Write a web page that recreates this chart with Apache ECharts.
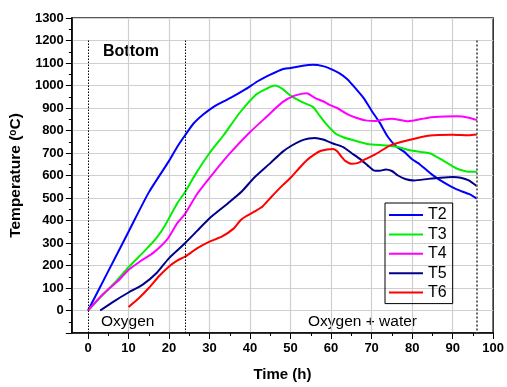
<!DOCTYPE html>
<html>
<head>
<meta charset="utf-8">
<script src="https://cdn.jsdelivr.net/npm/echarts@6.0.0/dist/echarts.min.js"></script>
<style>
  html, body { margin: 0; padding: 0; background: #fff; }
  #chart { width: 507px; height: 387px; }
</style>
</head>
<body>
<div id="chart"></div>
<script>
// hours / temperatures
const t2Hours = [0, 5, 10, 15, 20, 22, 24, 26, 28.5, 31, 33, 35.5, 39, 42, 45, 48, 50, 53, 55.5, 58, 60, 62, 64, 66, 68, 70, 72, 74, 76, 78, 80, 82, 85, 88, 91, 94, 96];
const t2Temps = [0, 175, 350, 525, 665, 727, 780, 830, 872, 905, 925, 948, 985, 1020, 1048, 1072, 1078, 1088, 1092, 1086, 1073, 1055, 1028, 988, 945, 888, 835, 772, 730, 706, 672, 648, 603, 567, 538, 518, 497];

const t3Hours = [0, 3, 6.5, 10, 14.5, 17, 19, 22, 24, 26.5, 30, 33.5, 37.5, 41.5, 44, 46, 48, 50, 53, 55.5, 57, 58.5, 61, 63, 65.5, 69, 74, 77, 79.5, 82, 84.5, 87.5, 91, 94, 96];
const t3Temps = [0, 57, 122, 192, 275, 325, 378, 476, 528, 605, 700, 780, 880, 960, 985, 1000, 985, 955, 925, 905, 870, 835, 788, 770, 757, 740, 733, 724, 712, 705, 698, 668, 631, 617, 617];

const t4Hours = [0, 3.6, 7.3, 10, 13, 16, 19.5, 22, 24, 27, 31, 35, 40, 44, 48, 51, 54, 56, 58, 59.5, 61.5, 64, 66, 68.5, 71, 73, 75, 79, 84, 88, 91, 94, 96];
const t4Temps = [0, 71, 130, 180, 220, 255, 315, 387, 431, 520, 612, 698, 793, 860, 926, 955, 966, 945, 930, 915, 900, 873, 858, 845, 842, 849, 852, 841, 857, 862, 863, 857, 846];

const t5Hours = [3, 6.5, 10, 13.5, 17, 20, 24, 27, 30, 34.5, 38, 41, 45, 48, 50, 52.5, 54.5, 56, 58, 60.5, 63, 65, 67, 69, 70.5, 72, 73.5, 75, 76.5, 78.5, 80.5, 84, 87, 90, 92, 94, 96];
const t5Temps = [0, 42, 80, 115, 168, 233, 300, 355, 410, 476, 530, 590, 655, 705, 730, 754, 764, 767, 760, 742, 726, 700, 675, 645, 623, 621, 627, 620, 600, 583, 578, 585, 590, 593, 590, 578, 552];

const t6Hours = [10, 12.6, 15, 17.5, 20, 22, 24, 27, 30, 33, 36, 37.7, 39, 41, 43, 45, 48, 50, 52, 54, 56, 57.5, 59, 60.5, 61.5, 62.5, 63.5, 65, 66.5, 68, 71, 74.5, 79, 84.5, 90, 94, 96];
const t6Temps = [16, 56, 100, 152, 196, 222, 240, 277, 306, 328, 365, 402, 419, 439, 461, 500, 556, 590, 630, 668, 695, 710, 716, 718, 708, 685, 665, 652, 655, 668, 695, 733, 757, 778, 781, 779, 782];

const seriesNames = ['T2', 'T3', 'T4', 'T5', 'T6'];
const seriesColors = ['#0000ff', '#00ee00', '#ff00ff', '#00008b', '#ff0000'];
const phaseLines = [0, 24, 96];
const xMajorTicks = [0, 10, 20, 30, 40, 50, 60, 70, 80, 90, 100];
const xMinorTicks = [5, 15, 25, 35, 45, 55, 65, 75, 85, 95];
const xGridLines = [10, 20, 30, 40, 50, 60, 70, 80, 90];

const FONT = 'Liberation Sans, Arial, sans-serif';

const pairs = (h, v) => h.map((x, i) => [x, v[i]]);
const allData = [
  pairs(t2Hours, t2Temps),
  pairs(t3Hours, t3Temps),
  pairs(t4Hours, t4Temps),
  pairs(t5Hours, t5Temps),
  pairs(t6Hours, t6Temps),
];

const chart = echarts.init(document.getElementById('chart'));

const series = seriesNames.map((name, i) => ({
  name,
  type: 'line',
  data: allData[i],
  showSymbol: false,
  smooth: 0.2,
  lineStyle: { color: seriesColors[i], width: 2 },
  itemStyle: { color: seriesColors[i] },
}));

// dotted phase boundaries
series[0].markLine = {
  silent: true,
  symbol: 'none',
  label: { show: false },
  lineStyle: { color: '#000', width: 1, type: [1.5, 1.5] },
  data: phaseLines.map((h, i) => [
    i === 2
      ? { coord: [h, 1200], lineStyle: { color: '#666', width: 2, type: [2, 2] } }
      : { coord: [h, 1200] },
    { coord: [h, -100] },
  ]),
};

const xBase = {
  type: 'value',
  min: -4,
  max: 100,
  position: 'bottom',
};

chart.setOption({
  animation: false,
  grid: {
    left: 68, right: 10, top: 18, bottom: 52,
    show: true, borderColor: '#222', borderWidth: 1.5,
  },
  legend: {
    orient: 'vertical',
    left: 385,
    top: 203,
    icon: 'rect',
    itemWidth: 34,
    itemHeight: 2,
    itemGap: 3.4,
    padding: [4, 6, 3, 4],
    borderColor: '#000',
    borderWidth: 1,
    textStyle: { fontFamily: FONT, fontSize: 16, lineHeight: 16, color: '#000' },
    data: seriesNames,
  },
  xAxis: [
    {
      ...xBase,
      name: 'Time (h)',
      nameLocation: 'middle',
      nameGap: 34,
      nameTextStyle: { fontFamily: FONT, fontSize: 15, fontWeight: 'bold', color: '#000' },
      axisLine: { onZero: false, lineStyle: { color: '#000', width: 1.5 } },
      axisTick: { show: true, length: 6, customValues: xMajorTicks, lineStyle: { color: '#000' } },
      axisLabel: {
        margin: 9,
        customValues: xMajorTicks,
        fontFamily: FONT, fontSize: 13, fontWeight: 'bold', color: '#000',
      },
      splitLine: { show: false },
    },
    {
      ...xBase,
      axisLine: { show: false, onZero: false },
      axisTick: { show: true, length: 3, customValues: xMinorTicks, lineStyle: { color: '#000' } },
      axisLabel: { show: false },
      splitLine: { show: false },
    },
    {
      ...xBase,
      axisLine: { show: false, onZero: false },
      axisTick: { show: false, customValues: xGridLines },
      axisLabel: { show: false },
      splitLine: { show: true, lineStyle: { color: '#cfcfcf', width: 1.2 } },
    },
  ],
  yAxis: {
    type: 'value',
    min: -100,
    max: 1300,
    interval: 100,
    name: '{a|Temperature (}{s|o}{a|C)}',
    nameLocation: 'middle',
    nameGap: 44,
    nameTextStyle: {
      rich: {
        a: { fontFamily: FONT, fontSize: 15.5, fontWeight: 'bold', color: '#000' },
        s: { fontFamily: FONT, fontSize: 10, fontWeight: 'bold', color: '#000', verticalAlign: 'top', padding: [0, 0, 6, 0] },
      },
    },
    axisLine: { show: true, onZero: false, lineStyle: { color: '#000', width: 1.5 } },
    axisTick: { show: true, length: 6, lineStyle: { color: '#000' } },
    minorTick: { show: true, splitNumber: 2, length: 3, lineStyle: { color: '#000' } },
    axisLabel: {
      margin: 8,
      fontFamily: FONT, fontSize: 13, fontWeight: 'bold', color: '#000',
      formatter: (v) => (v < 0 ? '' : String(v)),
    },
    splitLine: { show: true, lineStyle: { color: '#cfcfcf', width: 1.2 } },
  },
  graphic: [
    { type: 'text', x: 103, y: 52, style: { text: 'Bottom', font: 'bold 16px ' + FONT, fill: '#000', verticalAlign: 'middle' } },
    { type: 'text', x: 101, y: 322, style: { text: 'Oxygen', font: '15.5px ' + FONT, fill: '#000', verticalAlign: 'middle' } },
    { type: 'text', x: 308, y: 322, style: { text: 'Oxygen + water', font: '15.5px ' + FONT, fill: '#000', verticalAlign: 'middle' } },
  ],
  series,
});
</script>
</body>
</html>
